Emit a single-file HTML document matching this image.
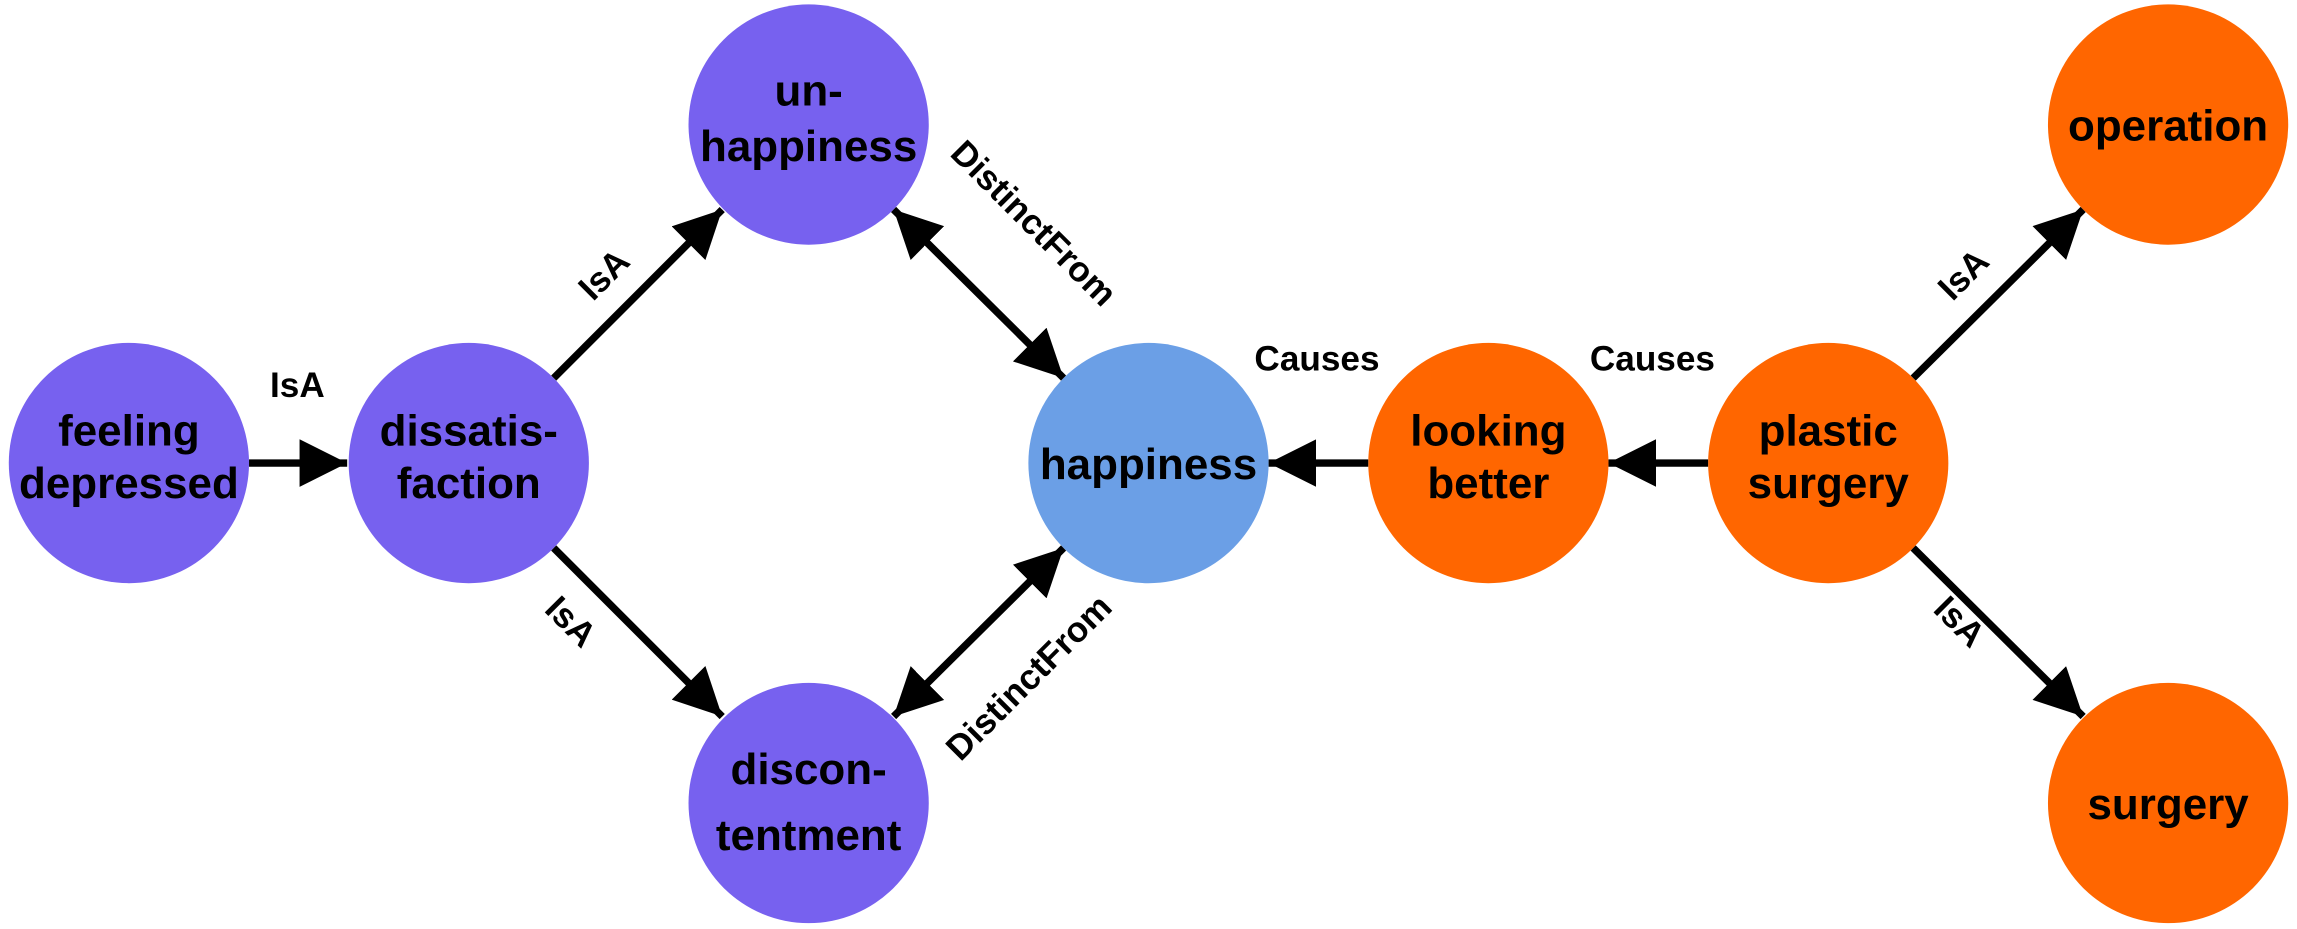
<!DOCTYPE html>
<html><head><meta charset="utf-8"><style>
html,body{margin:0;padding:0;background:#fff;}
svg{display:block;}
text{font-family:"Liberation Sans",Arial,sans-serif;font-weight:bold;fill:#000;}
.n{font-size:30px;text-anchor:middle;}
.l{font-size:24px;text-anchor:middle;}
line{stroke:#000;stroke-width:5;}
</style></head><body>
<svg width="2297" height="929" viewBox="0 0 1568 634" preserveAspectRatio="none" xmlns="http://www.w3.org/2000/svg">
<defs>
<marker id="a" viewBox="0 0 10 10" refX="10" refY="5" markerWidth="6.5" markerHeight="6.5" orient="auto-start-reverse" markerUnits="strokeWidth">
<path d="M0,0 L10,5 L0,10 Z" fill="#000"/></marker>
</defs>
<g fill="#7761ef">
<circle cx="88" cy="316" r="82"/>
<circle cx="320" cy="316" r="82"/>
<circle cx="552" cy="85" r="82"/>
<circle cx="552" cy="548" r="82"/>
</g>
<circle cx="784" cy="316" r="82" fill="#6b9fe6"/>
<g fill="#ff6600">
<circle cx="1016" cy="316" r="82"/>
<circle cx="1248" cy="316" r="82"/>
<circle cx="1480" cy="85" r="82"/>
<circle cx="1480" cy="548" r="82"/>
</g>
<line x1="170" y1="316" x2="237" y2="316" marker-end="url(#a)"/>
<line x1="378" y1="258" x2="493" y2="143" marker-end="url(#a)"/>
<line x1="378" y1="374" x2="493" y2="489" marker-end="url(#a)"/>
<line x1="610" y1="143" x2="726" y2="258" marker-start="url(#a)" marker-end="url(#a)"/>
<line x1="610" y1="489" x2="726" y2="374" marker-start="url(#a)" marker-end="url(#a)"/>
<line x1="934" y1="316" x2="866" y2="316" marker-end="url(#a)"/>
<line x1="1166" y1="316" x2="1098" y2="316" marker-end="url(#a)"/>
<line x1="1306" y1="258" x2="1422" y2="143" marker-end="url(#a)"/>
<line x1="1306" y1="374" x2="1422" y2="489" marker-end="url(#a)"/>
<text class="n" x="88" y="304">feeling</text><text class="n" x="88" y="340">depressed</text>
<text class="n" x="320" y="304">dissatis-</text><text class="n" x="320" y="340">faction</text>
<text class="n" x="552" y="72">un-</text><text class="n" x="552" y="110">happiness</text>
<text class="n" x="552" y="535">discon-</text><text class="n" x="552" y="580">tentment</text>
<text class="n" x="784" y="327">happiness</text>
<text class="n" x="1016" y="304">looking</text><text class="n" x="1016" y="340">better</text>
<text class="n" x="1248" y="304">plastic</text><text class="n" x="1248" y="340">surgery</text>
<text class="n" x="1480" y="96">operation</text>
<text class="n" x="1480" y="559">surgery</text>
<text class="l" x="203" y="271">IsA</text>
<text class="l" transform="translate(418,193) rotate(-45)">IsA</text>
<text class="l" transform="translate(384,430) rotate(45)">IsA</text>
<text class="l" transform="translate(700,158) rotate(45)">DistinctFrom</text>
<text class="l" transform="translate(708,468) rotate(-45)">DistinctFrom</text>
<text class="l" x="899" y="253">Causes</text>
<text class="l" x="1128" y="253">Causes</text>
<text class="l" transform="translate(1346,193) rotate(-45)">IsA</text>
<text class="l" transform="translate(1332,430) rotate(45)">IsA</text>
</svg>
</body></html>
